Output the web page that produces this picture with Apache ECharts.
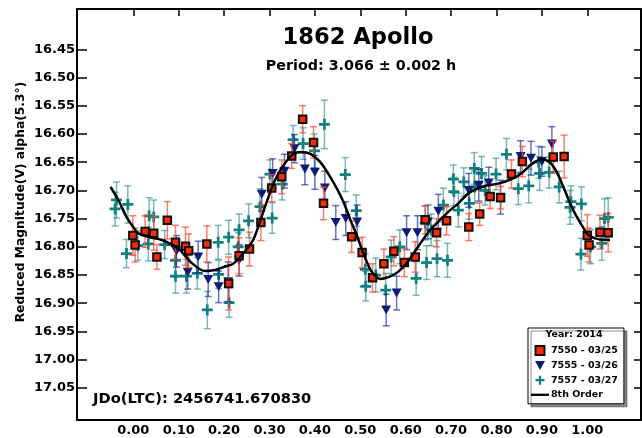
<!DOCTYPE html>
<html><head><meta charset="utf-8">
<script src="https://cdn.jsdelivr.net/npm/echarts@6/dist/echarts.min.js"></script>
<style>html,body{margin:0;padding:0;background:#fff}#c{width:642px;height:438px}</style>
</head><body><div id="c"></div>
<script>
// ---- data: [phase, reduced magnitude, error] ----
const s7550 = [
[-0.001,16.780,0.035],[0.004,16.797,0.030],[0.026,16.773,0.028],[0.045,16.776,0.030],[0.052,16.818,0.022],
[0.075,16.753,0.033],[0.093,16.792,0.030],[0.115,16.799,0.034],[0.122,16.807,0.030],[0.162,16.795,0.032],
[0.210,16.865,0.047],[0.233,16.816,0.032],[0.256,16.804,0.030],[0.281,16.757,0.032],[0.305,16.696,0.024],
[0.327,16.676,0.030],[0.349,16.639,0.022],[0.373,16.574,0.024],[0.397,16.615,0.028],[0.419,16.723,0.029],
[0.481,16.782,0.028],[0.504,16.810,0.027],[0.527,16.855,0.025],[0.552,16.830,0.026],[0.574,16.808,0.026],
[0.597,16.828,0.025],[0.621,16.818,0.027],[0.643,16.752,0.025],[0.668,16.775,0.025],[0.690,16.754,0.025],
[0.739,16.765,0.024],[0.763,16.742,0.020],[0.786,16.711,0.021],[0.809,16.713,0.020],[0.833,16.671,0.025],
[0.857,16.649,0.027],[0.925,16.641,0.028],[0.949,16.640,0.038],[1.000,16.780,0.037],[1.004,16.797,0.030],
[1.028,16.774,0.030],[1.046,16.775,0.034]
];
const s7555 = [
[0.095,16.808,0.028],[0.120,16.845,0.030],[0.143,16.818,0.028],[0.165,16.858,0.030],[0.188,16.871,0.028],
[0.209,16.862,0.035],[0.233,16.824,0.028],[0.283,16.707,0.030],[0.307,16.670,0.026],[0.333,16.666,0.030],
[0.355,16.626,0.025],[0.378,16.662,0.028],[0.400,16.668,0.030],[0.422,16.696,0.030],[0.446,16.757,0.030],
[0.468,16.750,0.030],[0.493,16.756,0.030],[0.557,16.912,0.028],[0.580,16.882,0.030],[0.602,16.775,0.030],
[0.626,16.775,0.030],[0.649,16.756,0.030],[0.672,16.737,0.030],[0.739,16.700,0.030],[0.761,16.691,0.028],
[0.783,16.687,0.028],[0.809,16.712,0.030],[0.853,16.640,0.028],[0.876,16.643,0.030],[0.900,16.649,0.026],
[0.922,16.618,0.031]
];
const s7557 = [
[-0.040,16.733,0.030],[-0.037,16.717,0.032],[-0.015,16.812,0.025],[-0.012,16.725,0.033],[0.010,16.798,0.026],
[0.033,16.795,0.030],[0.035,16.745,0.032],[0.045,16.747,0.030],[0.069,16.796,0.025],[0.093,16.824,0.030],
[0.093,16.852,0.030],[0.117,16.852,0.030],[0.141,16.847,0.028],[0.163,16.912,0.033],[0.187,16.792,0.030],
[0.188,16.849,0.025],[0.210,16.783,0.030],[0.211,16.899,0.026],[0.231,16.800,0.025],[0.233,16.770,0.028],
[0.254,16.754,0.030],[0.279,16.729,0.032],[0.301,16.671,0.025],[0.306,16.749,0.027],[0.328,16.689,0.028],
[0.352,16.610,0.025],[0.374,16.617,0.028],[0.399,16.630,0.030],[0.421,16.583,0.043],[0.467,16.672,0.030],
[0.491,16.736,0.028],[0.511,16.840,0.028],[0.512,16.870,0.026],[0.534,16.850,0.030],[0.556,16.877,0.030],
[0.568,16.818,0.030],[0.587,16.800,0.030],[0.623,16.856,0.030],[0.643,16.758,0.030],[0.646,16.828,0.030],
[0.656,16.770,0.028],[0.669,16.821,0.032],[0.683,16.726,0.030],[0.692,16.824,0.030],[0.705,16.680,0.025],
[0.706,16.702,0.025],[0.716,16.735,0.030],[0.728,16.685,0.025],[0.740,16.723,0.028],[0.751,16.661,0.028],
[0.752,16.694,0.028],[0.767,16.670,0.030],[0.775,16.700,0.026],[0.799,16.671,0.028],[0.822,16.636,0.028],
[0.848,16.697,0.028],[0.871,16.692,0.030],[0.893,16.650,0.028],[0.895,16.670,0.030],[0.916,16.668,0.028],
[0.938,16.694,0.028],[0.962,16.730,0.030],[0.964,16.720,0.028],[0.987,16.724,0.030],[0.986,16.813,0.028],
[1.007,16.800,0.030],[1.032,16.794,0.030],[1.038,16.750,0.035],[1.046,16.748,0.035]
];
const fit8 = [
[-0.050,16.694],[-0.033,16.717],[-0.015,16.747],[0.000,16.765],[0.011,16.776],[0.035,16.783],[0.063,16.788],
[0.099,16.803],[0.129,16.829],[0.158,16.843],[0.180,16.841],[0.202,16.835],[0.220,16.830],[0.242,16.812],
[0.264,16.788],[0.283,16.746],[0.294,16.720],[0.312,16.682],[0.334,16.652],[0.352,16.636],[0.371,16.632],
[0.389,16.635],[0.411,16.649],[0.435,16.678],[0.461,16.717],[0.479,16.754],[0.492,16.779],[0.507,16.812],
[0.525,16.844],[0.545,16.857],[0.565,16.853],[0.584,16.844],[0.606,16.825],[0.628,16.799],[0.653,16.771],
[0.676,16.752],[0.698,16.735],[0.716,16.723],[0.740,16.704],[0.771,16.693],[0.804,16.688],[0.833,16.680],
[0.856,16.669],[0.878,16.653],[0.900,16.645],[0.918,16.651],[0.933,16.668],[0.951,16.701],[0.969,16.735],
[0.988,16.762],[1.002,16.779],[1.017,16.785],[1.039,16.788],[1.050,16.788]
];
const xTicks = [0,0.1,0.2,0.3,0.4,0.5,0.6,0.7,0.8,0.9,1.0];
const yTicks = [16.45,16.50,16.55,16.60,16.65,16.70,16.75,16.80,16.85,16.90,16.95,17.00,17.05];
const seriesNames = ['7550 - 03/25','7555 - 03/26','7557 - 03/27','8th Order'];

const FONT = 'DejaVu Sans';
const chart = echarts.init(document.getElementById('c'), null, {renderer:'canvas'});

function errRender(color){
  return function(params, api){
    const x = api.value(0), y = api.value(1), e = api.value(2);
    const a = api.coord([x, y - e]), b = api.coord([x, y + e]);
    const hw = 3.5;
    const st = {stroke: color, lineWidth: 1.5};
    return {type:'group', children:[
      {type:'line', shape:{x1:a[0],y1:a[1],x2:b[0],y2:b[1]}, style:st},
      {type:'line', shape:{x1:a[0]-hw,y1:a[1],x2:a[0]+hw,y2:a[1]}, style:st},
      {type:'line', shape:{x1:b[0]-hw,y1:b[1],x2:b[0]+hw,y2:b[1]}, style:st}
    ]};
  };
}
const plusPath = 'path://M3.75,0h2.5v3.75h3.75v2.5h-3.75v3.75h-2.5v-3.75h-3.75v-2.5h3.75z';
const squarePath = 'path://M0,0h10v10h-10z';
const triPath = 'path://M0,0L10,0L5,9z';
const linePath = 'path://M0,0h20v2.6h-20z';
const RED='#ff2a00', NAVY='#0c1a78', TEAL='#108080';
const axisLine = {show:true, onZero:false, lineStyle:{color:'#000', width:2}};

chart.setOption({
  animation:false,
  backgroundColor:'#fff',
  grid:{left:77, top:9, width:564, height:411, containLabel:false},
  xAxis:[
    {type:'value', min:-0.124, max:1.1183, position:'bottom', axisLine:axisLine, splitLine:{show:false},
     axisTick:{show:false},
     axisLabel:{customValues:xTicks, formatter:v=>v.toFixed(2), color:'#000', fontFamily:FONT, fontWeight:'bold', fontSize:13, margin:4}},
    {type:'value', min:-0.124, max:1.1183, position:'top', axisLine:axisLine, splitLine:{show:false},
     axisTick:{show:true, inside:true, length:7, customValues:xTicks, lineStyle:{color:'#000', width:1.5}},
     axisLabel:{show:false}}
  ],
  yAxis:[
    {type:'value', inverse:true, min:16.3785, max:17.107, position:'left', axisLine:axisLine, splitLine:{show:false},
     axisTick:{show:true, inside:true, length:10, customValues:yTicks, lineStyle:{color:'#000', width:1.5}},
     axisLabel:{customValues:yTicks, formatter:v=>v.toFixed(2), color:'#000', fontFamily:FONT, fontWeight:'bold', fontSize:13, margin:2}},
    {type:'value', inverse:true, min:16.3785, max:17.107, position:'right', axisLine:axisLine, splitLine:{show:false},
     axisTick:{show:true, inside:true, length:7, customValues:yTicks, lineStyle:{color:'#000', width:1.5}},
     axisLabel:{show:false}}
  ],
  legend:{
    data:[
      {name:seriesNames[0], icon:squarePath},
      {name:seriesNames[1], icon:triPath},
      {name:seriesNames[2], icon:plusPath},
      {name:seriesNames[3], icon:linePath, itemStyle:{color:'#000'}}
    ],
    orient:'vertical', left:528, top:328,
    padding:[17,6,4,3], itemWidth:18, itemHeight:9, itemGap:4.6,
    backgroundColor:'#fff', borderColor:'#000', borderWidth:1,
    shadowColor:'rgba(0,0,0,0.45)', shadowOffsetX:3, shadowOffsetY:3, shadowBlur:0,
    symbolKeepAspect:true,
    textStyle:{fontFamily:FONT, fontWeight:'bold', fontSize:9.5, color:'#000', padding:[0,0,0,-3]}
  },
  graphic:[
    {type:'text', z:100, x:358, y:38, style:{text:'1862 Apollo', font:'bold 22.6px "DejaVu Sans"', fill:'#000', textAlign:'center', textVerticalAlign:'middle'}},
    {type:'text', z:100, x:361, y:66, style:{text:'Period: 3.066 ± 0.002 h', font:'bold 14.3px "DejaVu Sans"', fill:'#000', textAlign:'center', textVerticalAlign:'middle'}},
    {type:'text', z:100, x:93, y:399, style:{text:'JDo(LTC): 2456741.670830', font:'bold 14.7px "DejaVu Sans"', fill:'#000', textAlign:'left', textVerticalAlign:'middle'}},
    {type:'text', z:100, x:21, y:202, rotation:Math.PI/2, style:{text:'Reduced Magnitude(V) alpha(5.3°)', font:'bold 12.3px "DejaVu Sans"', fill:'#000', textAlign:'center', textVerticalAlign:'middle'}},
    {type:'text', z:100, x:574, y:335, style:{text:'Year: 2014', font:'bold 9.5px "DejaVu Sans"', fill:'#000', textAlign:'center', textVerticalAlign:'middle'}}
  ],
  series:[
    {type:'custom', name:'err7557', data:s7557, renderItem:errRender('rgba(16,128,128,0.55)'), encode:{x:0,y:1}, z:2, silent:true},
    {type:'scatter', name:seriesNames[2], data:s7557.map(d=>[d[0],d[1]]), symbol:plusPath, symbolSize:11,
     itemStyle:{color:TEAL, opacity:1}, z:3},
    {type:'custom', name:'err7555', data:s7555, renderItem:errRender('rgba(25,40,150,0.65)'), encode:{x:0,y:1}, z:4, silent:true},
    {type:'scatter', name:seriesNames[1], data:s7555.map(d=>[d[0],d[1]]), symbol:triPath, symbolSize:[10,9],
     itemStyle:{color:NAVY, opacity:1}, z:5},
    {type:'custom', name:'err7550', data:s7550, renderItem:errRender('rgba(255,70,40,0.7)'), encode:{x:0,y:1}, z:6, silent:true},
    {type:'scatter', name:seriesNames[0], data:s7550.map(d=>[d[0],d[1]]), symbol:squarePath, symbolSize:7.5,
     itemStyle:{color:RED, borderColor:'#111', borderWidth:2, opacity:1}, z:7},
    {type:'line', name:seriesNames[3], data:fit8, smooth:0.3, symbol:'none', showSymbol:false,
     lineStyle:{color:'#000', width:2.5}, itemStyle:{color:'#000'}, z:8}
  ]
});
</script></body></html>
